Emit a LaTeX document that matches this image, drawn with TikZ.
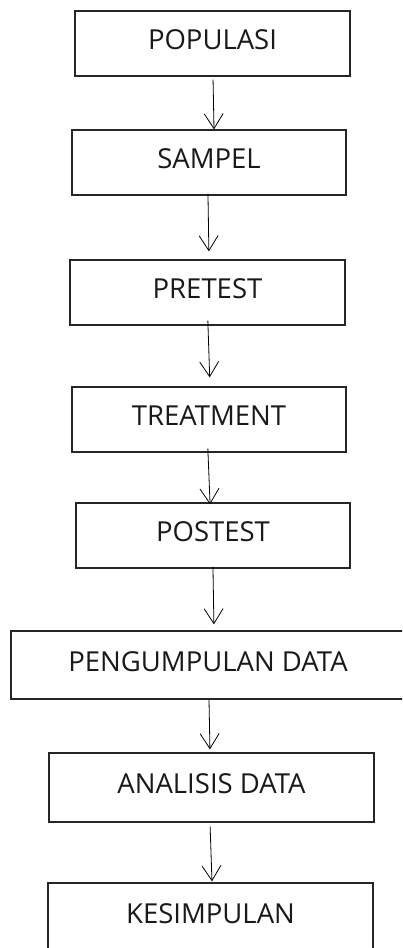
\documentclass[tikz,border=0pt]{standalone}
\usepackage{fontspec}
\setmainfont{Open Sans}
\usepackage{tikz}
\usetikzlibrary{arrows.meta,positioning}

\begin{document}
\begin{tikzpicture}[
    x=1pt, y=-1pt,
    block/.style={rectangle, draw=black!85, line width=1.3pt, fill=white, align=center, inner sep=0pt, text height=19.6pt, text depth=7pt, font=\fontsize{27.5}{33}\selectfont, text=black!90},
    arrow/.style={-{Straight Barb[length=15pt, width=19pt]}, line width=0.8pt, black}
  ]
    % --- FRAME ---
    \useasboundingbox (0,0) rectangle (402,948);
    \clip (0,0) rectangle (402,948);

    % --- BLOCKS ---
    \node[block, minimum width=275pt, minimum height=65pt] (pop) at (212.5, 43.5) {POPULASI};
    \node[block, minimum width=274pt, minimum height=65pt] (sam) at (209, 162.5) {SAMPEL};
    \node[block, minimum width=275pt, minimum height=65pt] (pre) at (207.5, 292.5) {PRETEST};
    \node[block, minimum width=274pt, minimum height=65pt] (tre) at (209, 419.5) {TREATMENT};
    \node[block, minimum width=274pt, minimum height=65pt] (pos) at (213, 535.5) {POSTEST};
    \node[block, minimum width=394pt, minimum height=68pt] (pen) at (208, 665) {PENGUMPULAN DATA};
    \node[block, minimum width=325pt, minimum height=69pt] (ana) at (211.5, 787.5) {ANALISIS DATA};
    \node[block, minimum width=325pt, minimum height=69pt] (kes) at (210.5, 917.5) {KESIMPULAN};

    % --- ARROWS ---
    \draw[arrow, shorten <=3pt] ([xshift=0.5pt]pop.south) -- ([xshift=5pt]sam.north);
    \draw[arrow, shorten <=-2pt, shorten >=8pt] ([xshift=-1pt]sam.south) -- ([xshift=1.5pt]pre.north);
    \draw[arrow, shorten <=-5pt, shorten >=9pt] ([xshift=0.5pt]pre.south) -- ([xshift=1pt]tre.north);
    \draw[arrow, shorten <=-4pt, shorten >=-2pt] ([xshift=-1pt]tre.south) -- ([xshift=-3pt]pos.north);
    \draw[arrow, shorten <=-2pt, shorten >=6pt] (pos.south) -- ([xshift=6pt]pen.north);
    \draw[arrow, shorten >=3pt] ([xshift=1pt]pen.south) -- ([xshift=-1.5pt]ana.north);
    \draw[arrow, shorten <=4pt, shorten >=1pt] ([xshift=-1.5pt]ana.south) -- ([xshift=1.5pt]kes.north);
  \end{tikzpicture}
\end{document}
